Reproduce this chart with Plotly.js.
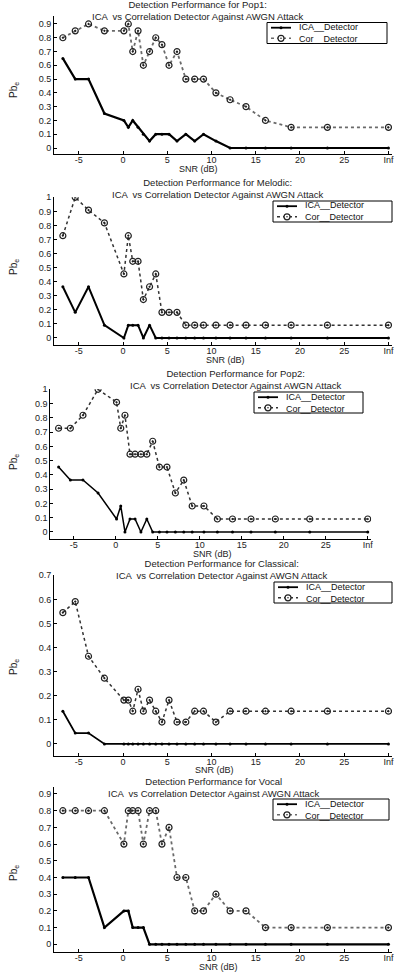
<!DOCTYPE html>
<html>
<head>
<meta charset="utf-8">
<script src="https://cdn.plot.ly/plotly-3.0.1.min.js"></script>
<style>
  html, body { margin: 0; padding: 0; background: #fff; }
  #chart { width: 396px; height: 975px; }
</style>
</head>
<body>
<div id="chart"></div>
<script>
// SNR grid (dB); the last point (30) is drawn at the "Inf" tick
const snrDb = [-6.8, -5.4, -3.9, -2.1, 0.1, 0.6, 1.1, 1.7, 2.3, 3.0, 3.7, 4.4, 5.2, 6.1, 7.1, 8.1, 9.1, 10.5, 12.1, 13.9, 16.1, 19.0, 23.1, 30];
const xTickVals = [-5, 0, 5, 10, 15, 20, 25, 30];
const xTickText = ['-5', '0', '5', '10', '15', '20', '25', 'Inf'];

const panelNames = ['Pop1:', 'Melodic:', 'Pop2:', 'Classical:', 'Vocal'];
const seriesNames = ['ICA__Detector', 'Cor__Detector'];

const pop1Ica = [0.65, 0.5, 0.5, 0.25, 0.2, 0.15, 0.2, 0.15, 0.1, 0.05, 0.1, 0.1, 0.1, 0.05, 0.1, 0.05, 0.1, 0.05, 0, 0, 0, 0, 0, 0];
const pop1Cor = [0.8, 0.85, 0.9, 0.85, 0.85, 0.9, 0.7, 0.85, 0.6, 0.7, 0.8, 0.75, 0.6, 0.7, 0.5, 0.5, 0.5, 0.4, 0.35, 0.3, 0.2, 0.15, 0.15, 0.15];

const melIca = [0.364, 0.182, 0.364, 0.091, 0, 0.091, 0.091, 0.091, 0, 0.091, 0, 0, 0, 0, 0, 0, 0, 0, 0, 0, 0, 0, 0, 0];
const melCor = [0.727, 1.0, 0.909, 0.818, 0.455, 0.727, 0.545, 0.545, 0.273, 0.364, 0.455, 0.182, 0.182, 0.182, 0.091, 0.091, 0.091, 0.091, 0.091, 0.091, 0.091, 0.091, 0.091, 0.091];

const pop2Ica = [0.455, 0.364, 0.364, 0.273, 0.091, 0.182, 0, 0.091, 0.091, 0, 0.091, 0, 0, 0, 0, 0, 0, 0, 0, 0, 0, 0, 0, 0];
const pop2Cor = [0.727, 0.727, 0.818, 1.0, 0.909, 0.727, 0.818, 0.545, 0.545, 0.545, 0.545, 0.636, 0.455, 0.455, 0.273, 0.364, 0.182, 0.182, 0.091, 0.091, 0.091, 0.091, 0.091, 0.091];

const claIca = [0.136, 0.045, 0.045, 0, 0, 0, 0, 0, 0, 0, 0, 0, 0, 0, 0, 0, 0, 0, 0, 0, 0, 0, 0, 0];
const claCor = [0.545, 0.591, 0.364, 0.273, 0.182, 0.182, 0.136, 0.227, 0.136, 0.182, 0.136, 0.091, 0.182, 0.091, 0.091, 0.136, 0.136, 0.091, 0.136, 0.136, 0.136, 0.136, 0.136, 0.136];

const vocIca = [0.4, 0.4, 0.4, 0.1, 0.2, 0.2, 0.1, 0.1, 0.1, 0, 0, 0, 0, 0, 0, 0, 0, 0, 0, 0, 0, 0, 0, 0];
const vocCor = [0.8, 0.8, 0.8, 0.8, 0.6, 0.8, 0.8, 0.8, 0.6, 0.8, 0.8, 0.6, 0.7, 0.4, 0.4, 0.2, 0.2, 0.3, 0.2, 0.2, 0.1, 0.1, 0.1, 0.1];

const icaSeries = [pop1Ica, melIca, pop2Ica, claIca, vocIca];
const corSeries = [pop1Cor, melCor, pop2Cor, claCor, vocCor];
const yTopTick = [0.9, 1.0, 1.0, 0.7, 0.9];

// ---- layout geometry (pixels in a 396 x 975 page) ----
const W = 396, H = 975;
const FONT = 'Liberation Sans, Arial, sans-serif';
const panels = [
  {l: 54, r: 392, t: 15.7, b: 154.2, yr: [-0.045, 0.96], tm: 10.5, tc: 198, xt: 169, xtc: 198, yt: 90, leg: [267, 22.5, 387], icaW: 2.2, corC: '#6a6a6a', corW: 1.8},
  {l: 54, r: 392, t: 197.3, b: 345, yr: [-0.05, 1.0], tm: 189, tc: 218, xt: 360, xtc: 225, yt: 267, leg: [273, 201, 392], icaW: 2, corC: '#333', corW: 1.5},
  {l: 50.2, r: 371.1, t: 389.3, b: 539.1, yr: [-0.05, 1.0], tm: 379.8, tc: 236, xt: 553.5, xtc: 212, yt: 462, leg: [254, 392, 363], icaW: 1.5, corC: '#333', corW: 1.5},
  {l: 54, r: 392, t: 575.3, b: 756, yr: [-0.05, 0.7], tm: 569.3, tc: 222, xt: 769.5, xtc: 214, yt: 667, leg: [274, 582, 392], icaW: 1.8, corC: '#333', corW: 1.5},
  {l: 54, r: 392, t: 787.3, b: 951.8, yr: [-0.045, 0.94], tm: 787, tc: 214, xt: 967, xtc: 218, yt: 873, leg: [273, 799, 389], icaW: 2.2, corC: '#6a6a6a', corW: 1.8}
];
const xRange = [-7.8, 30.4];
const px = v => v / W;
const py = v => 1 - v / H;

const traces = [];
const shapes = [];
const annotations = [];
const layout = {
  width: W, height: H,
  margin: {l: 0, r: 0, t: 0, b: 0},
  paper_bgcolor: '#fff', plot_bgcolor: '#fff',
  font: {family: FONT, size: 9, color: '#000'},
  showlegend: false,
  shapes: shapes,
  annotations: annotations
};

function circlePx(cx, cy, r, fill, lineW, lineC) {
  return {type: 'circle', xref: 'paper', yref: 'paper', layer: 'above',
    x0: px(cx - r), x1: px(cx + r), y0: py(cy + r), y1: py(cy - r),
    fillcolor: fill, line: {width: lineW, color: lineC}};
}
function linePx(x0, x1, y, w, c, dash) {
  return {type: 'line', xref: 'paper', yref: 'paper', layer: 'above',
    x0: px(x0), x1: px(x1), y0: py(y), y1: py(y), line: {width: w, color: c, dash: dash}};
}

panels.forEach((p, i) => {
  const n = i === 0 ? '' : String(i + 1);
  const xa = 'x' + n, ya = 'y' + n;

  traces.push({
    x: snrDb, y: icaSeries[i], xaxis: xa, yaxis: ya,
    name: seriesNames[0], mode: 'lines+markers', type: 'scatter',
    line: {color: '#000', width: p.icaW},
    marker: {symbol: 'circle', size: 3, color: '#000'}
  });
  traces.push({
    x: snrDb, y: corSeries[i], xaxis: xa, yaxis: ya,
    name: seriesNames[1], mode: 'lines+markers', type: 'scatter',
    line: {color: p.corC, width: p.corW, dash: 'dot'},
    marker: {symbol: 'circle-open-dot', size: 6, color: '#222', line: {width: 1.2, color: '#222'}}
  });

  const yTicks = [];
  for (let k = 0; k <= Math.round(yTopTick[i] * 10); k++) yTicks.push(k / 10);

  layout['xaxis' + n] = {
    domain: [px(p.l), px(p.r)], range: xRange, anchor: ya,
    tickvals: xTickVals, ticktext: xTickText,
    ticks: 'inside', ticklen: 3, tickcolor: '#000',
    ticklabelstandoff: -3,
    showline: true, linecolor: '#000', linewidth: 1,
    showgrid: false, zeroline: false,
    tickfont: {family: FONT, size: 9, color: '#222'}
  };
  layout['yaxis' + n] = {
    domain: [py(p.b), py(p.t)], range: p.yr, anchor: xa,
    tickvals: yTicks, ticktext: yTicks.map(v => v === 0 ? '0' : (v === 1 ? '1' : v.toFixed(1))),
    ticks: 'inside', ticklen: 3, tickcolor: '#000',
    showline: true, linecolor: '#000', linewidth: 1,
    showgrid: false, zeroline: false,
    tickfont: {family: FONT, size: 9, color: '#222'}
  };

  // titles and axis labels
  annotations.push(
    {xref: 'paper', yref: 'paper', x: px(p.tc), y: py(p.tm),
     text: 'Detection Performance for ' + panelNames[i] + '<br>ICA  vs Correlation Detector Against AWGN Attack',
     showarrow: false, xanchor: 'center', yanchor: 'middle', align: 'center',
     font: {family: FONT, size: 9.5, color: '#222'}},
    {xref: 'paper', yref: 'paper', x: px(p.xtc), y: py(p.xt), text: 'SNR (dB)',
     showarrow: false, xanchor: 'center', yanchor: 'middle', font: {family: FONT, size: 9, color: '#222'}},
    {xref: 'paper', yref: 'paper', x: px(14), y: py(p.yt), text: 'Pb<sub>e</sub>', textangle: -90,
     showarrow: false, xanchor: 'center', yanchor: 'middle', font: {family: FONT, size: 10, color: '#222'}}
  );

  // compact legend box (two rows)
  const bx0 = p.leg[0], by0 = p.leg[1], bx1 = p.leg[2], bh = 21;
  const r1 = by0 + 5.2, r2 = by0 + 15.8;
  shapes.push({type: 'rect', xref: 'paper', yref: 'paper', layer: 'above',
    x0: px(bx0), x1: px(bx1), y0: py(by0 + bh), y1: py(by0),
    fillcolor: '#fff', line: {width: 1, color: '#000'}});
  shapes.push(linePx(bx0 + 4, bx0 + 24, r1, 1.8, '#000', 'solid'));
  shapes.push(circlePx(bx0 + 14, r1, 1.5, '#000', 0, '#000'));
  shapes.push(linePx(bx0 + 4, bx0 + 24, r2, 1.5, p.corC, 'dot'));
  shapes.push(circlePx(bx0 + 14, r2, 3, '#fff', 1.2, '#222'));
  shapes.push(circlePx(bx0 + 14, r2, 0.8, '#222', 0, '#222'));
  annotations.push({xref: 'paper', yref: 'paper', x: px(bx0 + 30), y: py(by0 + bh / 2),
    text: seriesNames[0] + '<br>' + seriesNames[1], align: 'left',
    showarrow: false, xanchor: 'left', yanchor: 'middle',
    font: {family: FONT, size: 9, color: '#111'}});
});

Plotly.newPlot('chart', traces, layout, {staticPlot: true, displayModeBar: false});
</script>
</body>
</html>
